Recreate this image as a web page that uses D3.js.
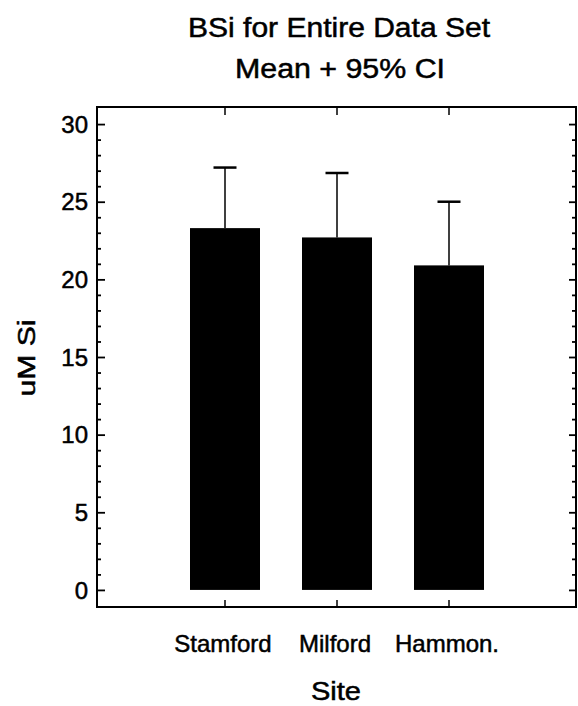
<!DOCTYPE html>
<html><head><meta charset="utf-8">
<script src="https://cdn.jsdelivr.net/npm/d3@7"></script>
<style>body{margin:0;background:#fff}text{font-family:"Liberation Sans",Arial,Helvetica,sans-serif;fill:#000;stroke:#000;stroke-width:0.5px}</style>
</head><body><svg id="c" width="578" height="706"></svg>
<script>
const sites = ["Stamford", "Milford", "Hammon."];
const means = [23.3, 22.7, 20.9];
const upperCI = [27.2, 26.85, 25.0];
const yTicks = [0, 5, 10, 15, 20, 25, 30];
const yMinorTicks = d3.range(0, 31, 1).filter(v => v % 5 !== 0);
const titleLines = ["BSi for Entire Data Set", "Mean + 95% CI"];
const xTitle = "Site";
const yTitle = "uM Si";

const svg = d3.select("#c");
const L = 97, R = 576, T = 107, B = 607;

const x = d3.scaleBand().domain(sites).range([169, 505]).paddingInner(0.375).paddingOuter(0.1875);
const y = d3.scaleLinear().domain([-1.1, 31.1]).range([B, T]);

const data = sites.map((s, i) => ({site: s, mean: means[i], hi: upperCI[i]}));

// bars
svg.append("g").selectAll("rect").data(data).join("rect")
  .attr("x", d => x(d.site)).attr("width", x.bandwidth())
  .attr("y", d => y(d.mean)).attr("height", d => y(0) - y(d.mean))
  .attr("fill", "#000");

// error bars
const eb = svg.append("g").attr("stroke", "#000");
eb.selectAll("line.v").data(data).join("line").attr("class", "v")
  .attr("x1", d => x(d.site) + x.bandwidth() / 2).attr("x2", d => x(d.site) + x.bandwidth() / 2)
  .attr("y1", d => y(d.mean)).attr("y2", d => y(d.hi)).attr("stroke-width", 1.5);
eb.selectAll("line.c").data(data).join("line").attr("class", "c")
  .attr("x1", d => x(d.site) + x.bandwidth() / 2 - 11.5).attr("x2", d => x(d.site) + x.bandwidth() / 2 + 11.5)
  .attr("y1", d => y(d.hi)).attr("y2", d => y(d.hi)).attr("stroke-width", 2.5);

// left axis
const gl = svg.append("g").attr("transform", `translate(${L},0)`)
  .call(d3.axisRight(y).tickValues(yTicks).tickSize(8).tickFormat(""));
gl.append("g").call(d3.axisRight(y).tickValues(yMinorTicks).tickSize(4).tickFormat(""));
gl.selectAll(".domain").remove();
gl.selectAll("line").attr("stroke-width", 1.8);
svg.append("g").selectAll("text").data(yTicks).join("text")
  .attr("x", 88).attr("y", d => y(d)).attr("dy", "0.36em")
  .attr("text-anchor", "end").attr("font-size", 24).text(d => d);

// right axis
const gr = svg.append("g").attr("transform", `translate(${R},0)`)
  .call(d3.axisLeft(y).tickValues(yTicks).tickSize(7).tickFormat(""));
gr.append("g").call(d3.axisLeft(y).tickValues(yMinorTicks).tickSize(4).tickFormat(""));
gr.selectAll(".domain").remove();
gr.selectAll("line").attr("stroke-width", 1.8);

// bottom axis ticks (inward)
const gb = svg.append("g").attr("transform", `translate(0,${B})`)
  .call(d3.axisTop(x).tickSize(7).tickFormat(""));
gb.selectAll(".domain").remove();
gb.selectAll("line").attr("stroke-width", 1.5);
// top axis ticks (inward)
const gt = svg.append("g").attr("transform", `translate(0,${T})`)
  .call(d3.axisBottom(x).tickSize(8).tickFormat(""));
gt.selectAll(".domain").remove();
gt.selectAll("line").attr("stroke-width", 1.5);

// x tick labels
svg.append("g").selectAll("text").data(sites).join("text")
  .attr("x", d => x(d) + x.bandwidth() / 2 - 2).attr("y", 652)
  .attr("text-anchor", "middle").attr("font-size", 24).text(d => d);

// frame
svg.append("rect").attr("x", L).attr("y", T).attr("width", R - L).attr("height", B - T)
  .attr("fill", "none").attr("stroke", "#000").attr("stroke-width", 2);

// titles
svg.append("text").attr("x", 339).attr("y", 37).attr("text-anchor", "middle")
  .attr("font-size", 27).attr("textLength", 302).attr("lengthAdjust", "spacingAndGlyphs").text(titleLines[0]);
svg.append("text").attr("x", 340).attr("y", 78).attr("text-anchor", "middle")
  .attr("font-size", 27).attr("textLength", 210).attr("lengthAdjust", "spacingAndGlyphs").text(titleLines[1]);
svg.append("text").attr("x", 336).attr("y", 700).attr("text-anchor", "middle")
  .attr("font-size", 26).attr("textLength", 50).attr("lengthAdjust", "spacingAndGlyphs").text(xTitle);
svg.append("text").attr("transform", "translate(35,358) rotate(-90)").attr("text-anchor", "middle")
  .attr("font-size", 23).attr("textLength", 77).attr("lengthAdjust", "spacingAndGlyphs").text(yTitle);
</script></body></html>
